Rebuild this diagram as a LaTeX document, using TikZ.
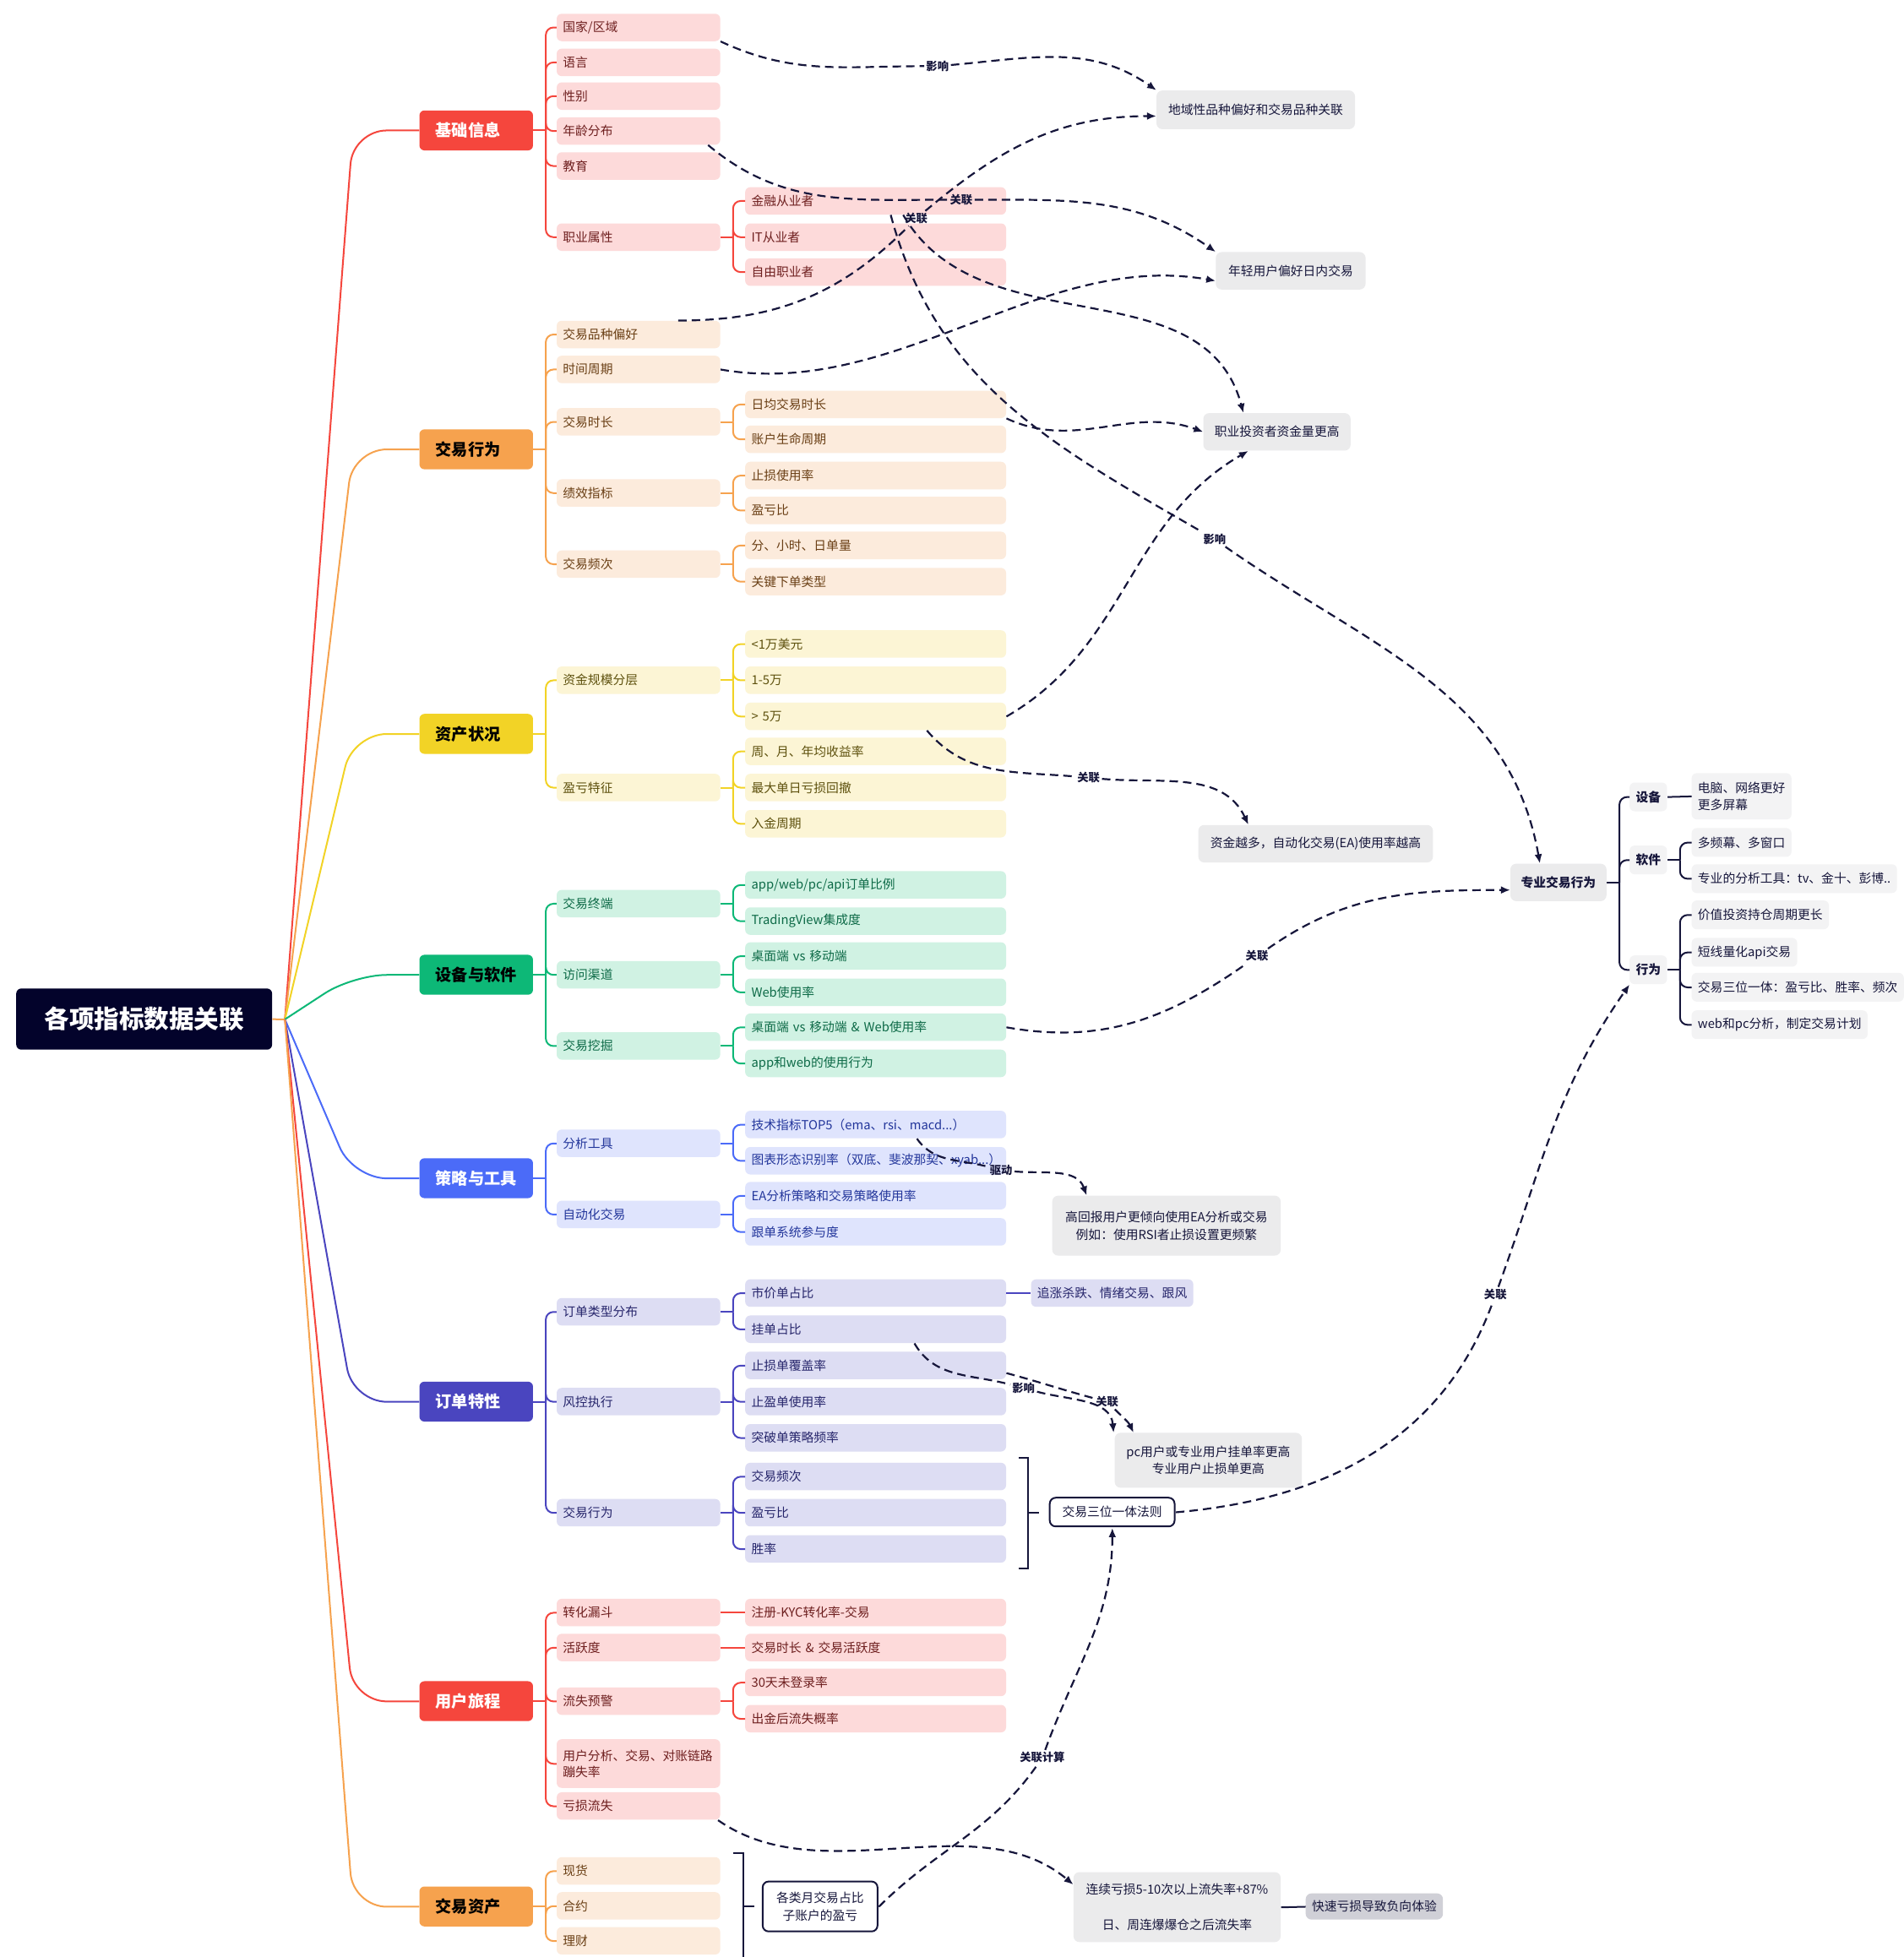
\documentclass[tikz,border=0pt]{standalone}
\usepackage{fontspec}
\setmainfont{Noto Sans CJK SC}
\usetikzlibrary{arrows.meta,calc,positioning}

\definecolor{rootC}{HTML}{03032B}
\definecolor{navy}{HTML}{16163B}
\definecolor{redC}{HTML}{F5463D}
\definecolor{redL}{HTML}{FDDADA}
\definecolor{redT}{HTML}{6E1F1F}
\definecolor{oraC}{HTML}{F6A24E}
\definecolor{oraL}{HTML}{FCEBDC}
\definecolor{oraT}{HTML}{6A3F15}
\definecolor{yelC}{HTML}{F2D326}
\definecolor{yelL}{HTML}{FCF5D5}
\definecolor{yelT}{HTML}{5E510E}
\definecolor{grnC}{HTML}{0DB877}
\definecolor{grnL}{HTML}{D0F2E3}
\definecolor{grnT}{HTML}{0D6A47}
\definecolor{bluC}{HTML}{4B6BF8}
\definecolor{bluL}{HTML}{DFE4FD}
\definecolor{bluT}{HTML}{23369B}
\definecolor{indC}{HTML}{4A45BF}
\definecolor{indL}{HTML}{DDDDF3}
\definecolor{indT}{HTML}{26256B}
\definecolor{noteC}{HTML}{EBEBEC}
\definecolor{noteD}{HTML}{D0D0D7}
\definecolor{tagC}{HTML}{F3F3F4}

\tikzset{
    rootbox/.style={fill=rootC, text=white, rounded corners=6pt,
        minimum width=205pt, minimum height=49pt,
        font=\fontsize{20}{24}\selectfont\bfseries},
    catbox/.style={fill=#1, text=black, rounded corners=6pt,
        text width=65pt, inner xsep=13pt, align=left, minimum height=32pt,
        font=\fontsize{13}{16}\selectfont\bfseries},
    subbox/.style={fill=#1L, text=#1T, rounded corners=6pt,
        text width=121pt, minimum height=22pt, inner xsep=5pt, inner ysep=2pt,
        align=left, font=\fontsize{10}{13}\selectfont},
    leafbox/.style={subbox=#1, text width=199pt},
    notebox/.style={fill=noteC, text=navy, rounded corners=7pt, align=center,
        font=\fontsize{10}{14}\selectfont},
    framebox/.style={notebox, fill=white, draw=navy, line width=2pt},
    tagbox/.style={fill=tagC, text=navy, rounded corners=6pt, inner sep=2pt,
        minimum width=30pt, minimum height=23pt,
        font=\fontsize{10}{13}\selectfont\bfseries},
    tagleaf/.style={fill=tagC, text=navy, rounded corners=6pt, anchor=west,
        inner xsep=5pt, minimum height=23pt, align=left,
        font=\fontsize{10}{14}\selectfont},
    lbl/.style={text=navy, inner sep=1.5pt, font=\fontsize{9}{11}\selectfont\bfseries},
    mainln/.style={draw=#1, line width=2pt, rounded corners=40pt},
    brnch/.style={draw=#1, line width=2pt, rounded corners=9pt},
    brk/.style={draw=navy, line width=2pt},
    rel/.style={draw=navy, line width=2.2pt, dash pattern=on 10pt off 6pt,
        -{Latex[length=11pt,width=9pt]}},
}
\newcommand\branchto[3]{%
    \draw[brnch=#2] (#1.east) -- ++(10,0);
    \foreach \k in {#3} \draw[brnch=#2] ($(#1.east)+(10,0)$) |- (\k.west);
}

\begin{document}
\begin{tikzpicture}[x=1pt, y=-1pt, scale=1.4774, transform shape]
    \path[use as bounding box, fill=white] (0,0) rectangle (1525,1568);

    % root and main topics
    \node[rootbox] (root) at (115.5,816.5) {各项指标数据关联};
    \coordinate (hub) at ($(root.east)+(10,0)$);
    \node[catbox=redC, text=white] (cA) at (381.5,104.5) {基础信息};
    \node[catbox=oraC] (cB) at (381.5,360) {交易行为};
    \node[catbox=yelC] (cC) at (381.5,588) {资产状况};
    \node[catbox=grnC] (cD) at (381.5,781) {设备与软件};
    \node[catbox=bluC, text=white] (cE) at (381.5,944) {策略与工具};
    \node[catbox=indC, text=white] (cF) at (381.5,1123) {订单特性};
    \node[catbox=redC, text=white] (cG) at (381.5,1363) {用户旅程};
    \node[catbox=oraC] (cH) at (381.5,1527.5) {交易资产};

    % 基础信息
    \node[subbox=red] (a1) at (511.5,22) {国家/区域};
    \node[subbox=red] (a2) at (511.5,50) {语言};
    \node[subbox=red] (a3) at (511.5,77) {性别};
    \node[subbox=red] (a4) at (511.5,105) {年龄分布};
    \node[subbox=red] (a5) at (511.5,133) {教育};
    \node[subbox=red] (a6) at (511.5,190) {职业属性};
    \node[leafbox=red] (a61) at (701.5,161) {金融从业者};
    \node[leafbox=red] (a62) at (701.5,190) {IT从业者};
    \node[leafbox=red] (a63) at (701.5,218) {自由职业者};

    % 交易行为
    \node[subbox=ora] (b1) at (511.5,268) {交易品种偏好};
    \node[subbox=ora] (b2) at (511.5,296) {时间周期};
    \node[subbox=ora] (b3) at (511.5,338) {交易时长};
    \node[subbox=ora] (b4) at (511.5,395) {绩效指标};
    \node[subbox=ora] (b5) at (511.5,452) {交易频次};
    \node[leafbox=ora] (b31) at (701.5,324) {日均交易时长};
    \node[leafbox=ora] (b32) at (701.5,352) {账户生命周期};
    \node[leafbox=ora] (b41) at (701.5,381) {止损使用率};
    \node[leafbox=ora] (b42) at (701.5,409) {盈亏比};
    \node[leafbox=ora] (b51) at (701.5,437) {分、小时、日单量};
    \node[leafbox=ora] (b52) at (701.5,466) {关键下单类型};

    % 资产状况
    \node[subbox=yel] (c1) at (511.5,545) {资金规模分层};
    \node[subbox=yel] (c2) at (511.5,631) {盈亏特征};
    \node[leafbox=yel] (c11) at (701.5,516) {<1万美元};
    \node[leafbox=yel] (c12) at (701.5,545) {1-5万};
    \node[leafbox=yel] (c13) at (701.5,574) {> 5万};
    \node[leafbox=yel] (c21) at (701.5,602) {周、月、年均收益率};
    \node[leafbox=yel] (c22) at (701.5,631) {最大单日亏损回撤};
    \node[leafbox=yel] (c23) at (701.5,660) {入金周期};

    % 设备与软件
    \node[subbox=grn] (d1) at (511.5,724) {交易终端};
    \node[subbox=grn] (d2) at (511.5,781) {访问渠道};
    \node[subbox=grn] (d3) at (511.5,838) {交易挖掘};
    \node[leafbox=grn] (d11) at (701.5,709) {app/web/pc/api订单比例};
    \node[leafbox=grn] (d12) at (701.5,738) {TradingView集成度};
    \node[leafbox=grn] (d21) at (701.5,766) {桌面端 vs 移动端};
    \node[leafbox=grn] (d22) at (701.5,795) {Web使用率};
    \node[leafbox=grn] (d31) at (701.5,823) {桌面端 vs 移动端 \& Web使用率};
    \node[leafbox=grn] (d32) at (701.5,852) {app和web的使用行为};

    % 策略与工具
    \node[subbox=blu] (e1) at (511.5,916) {分析工具};
    \node[subbox=blu] (e2) at (511.5,973) {自动化交易};
    \node[leafbox=blu] (e11) at (701.5,901) {技术指标TOP5（ema、rsi、macd...）};
    \node[leafbox=blu] (e12) at (701.5,930) {图表形态识别率（双底、斐波那契、xyab...）};
    \node[leafbox=blu] (e21) at (701.5,958) {EA分析策略和交易策略使用率};
    \node[leafbox=blu] (e22) at (701.5,987) {跟单系统参与度};

    % 订单特性
    \node[subbox=ind] (f1) at (511.5,1051) {订单类型分布};
    \node[subbox=ind] (f2) at (511.5,1123) {风控执行};
    \node[subbox=ind] (f3) at (511.5,1212) {交易行为};
    \node[leafbox=ind] (f11) at (701.5,1036) {市价单占比};
    \node[leafbox=ind] (f12) at (701.5,1065) {挂单占比};
    \node[subbox=ind, text width=120pt] (f111) at (891,1036) {追涨杀跌、情绪交易、跟风};
    \node[leafbox=ind] (f21) at (701.5,1094) {止损单覆盖率};
    \node[leafbox=ind] (f22) at (701.5,1123) {止盈单使用率};
    \node[leafbox=ind] (f23) at (701.5,1152) {突破单策略频率};
    \node[leafbox=ind] (f31) at (701.5,1183) {交易频次};
    \node[leafbox=ind] (f32) at (701.5,1212) {盈亏比};
    \node[leafbox=ind] (f33) at (701.5,1241) {胜率};

    % 用户旅程
    \node[subbox=red] (g1) at (511.5,1292) {转化漏斗};
    \node[subbox=red] (g2) at (511.5,1320) {活跃度};
    \node[subbox=red] (g3) at (511.5,1363) {流失预警};
    \node[subbox=red, minimum height=39pt] (g4) at (511.5,1413) {用户分析、交易、对账链路\\蹦失率};
    \node[subbox=red] (g5) at (511.5,1447) {亏损流失};
    \node[leafbox=red] (g11) at (701.5,1292) {注册-KYC转化率-交易};
    \node[leafbox=red] (g21) at (701.5,1320) {交易时长 \& 交易活跃度};
    \node[leafbox=red] (g31) at (701.5,1348) {30天未登录率};
    \node[leafbox=red] (g32) at (701.5,1377) {出金后流失概率};

    % 交易资产
    \node[subbox=ora] (h1) at (511.5,1499) {现货};
    \node[subbox=ora] (h2) at (511.5,1527) {合约};
    \node[subbox=ora] (h3) at (511.5,1555) {理财};

    % conclusions
    \node[notebox, minimum width=159pt, minimum height=31pt] (nGeo) at (1006,88) {地域性品种偏好和交易品种关联};
    \node[notebox, minimum width=120pt, minimum height=30pt] (nYoung) at (1034,217) {年轻用户偏好日内交易};
    \node[notebox, minimum width=118pt, minimum height=30pt] (nPro) at (1023,346) {职业投资者资金量更高};
    \node[notebox, minimum width=188pt, minimum height=30pt] (nEA) at (1054,676) {资金越多，自动化交易(EA)使用率越高};
    \node[notebox, minimum width=183pt, minimum height=48pt] (nHigh) at (934.5,982) {高回报用户更倾向使用EA分析或交易\\例如：使用RSI者止损设置更频繁};
    \node[notebox, minimum width=150pt, minimum height=44pt] (nPc) at (968,1170) {pc用户或专业用户挂单率更高\\专业用户止损单更高};
    \node[framebox, minimum width=100pt, minimum height=23pt] (sanwei) at (891,1211.5) {交易三位一体法则};
    \node[framebox, minimum width=92pt, minimum height=40pt] (yueJy) at (657,1527.5) {各类月交易占比\\子账户的盈亏};
    \node[notebox, minimum width=166pt, minimum height=56pt] (lianxu) at (943,1528) {连续亏损5-10次以上流失率+87\%\\[14pt]日、周连爆爆仓之后流失率};
    \node[notebox, fill=noteD, minimum width=110pt, minimum height=21pt] (kuaisu) at (1101,1527.5) {快速亏损导致负向体验};

    % 专业交易行为
    \node[notebox, minimum width=77pt, minimum height=30pt, font=\fontsize{10}{13}\selectfont\bfseries] (zy) at (1248.5,707) {专业交易行为};
    \node[tagbox] (zSb) at (1320.5,638.5) {设备};
    \node[tagbox] (zRj) at (1320.5,689) {软件};
    \node[tagbox] (zXw) at (1320.5,777) {行为};
    \node[tagleaf, minimum height=37pt] (zl1) at (1355,638) {电脑、网络更好\\更多屏幕};
    \node[tagleaf] (zl2) at (1355,675) {多频幕、多窗口};
    \node[tagleaf] (zl3) at (1355,704) {专业的分析工具：tv、金十、彭博..};
    \node[tagleaf] (zl4) at (1355,733) {价值投资持仓周期更长};
    \node[tagleaf] (zl5) at (1355,763) {短线量化api交易};
    \node[tagleaf] (zl6) at (1355,791) {交易三位一体：盈亏比、胜率、频次};
    \node[tagleaf] (zl7) at (1355,821) {web和pc分析，制定交易计划};

    % labels on the relations
    \node[lbl] (l1) at (751,53) {影响};
    \node[lbl] (l2) at (734,175) {关联};
    \node[lbl] (l3) at (770,160) {关联};
    \node[lbl] (l5) at (973,432) {影响};
    \node[lbl] (l6) at (872,623) {关联};
    \node[lbl] (l7) at (1007,766) {关联};
    \node[lbl] (l8) at (802,937.5) {驱动};
    \node[lbl] (l9) at (820,1112) {影响};
    \node[lbl] (l10) at (887,1123) {关联};
    \node[lbl] (l11) at (1198,1037) {关联};
    \node[lbl] (l12) at (835,1408) {关联计算};

    % tree lines
    \draw[mainln=oraC] (root.east) -- (hub);
    \foreach \c/\col in {cA/redC, cB/oraC, cC/yelC, cD/grnC, cE/bluC, cF/indC, cG/redC, cH/oraC}
        \draw[mainln=\col] (hub) -- ($(\c.west)+(-53,0)$) -- (\c.west);
    \branchto{cA}{redC}{a1,a2,a3,a4,a5,a6}
    \branchto{a6}{redC}{a61,a62,a63}
    \branchto{cB}{oraC}{b1,b2,b3,b4,b5}
    \branchto{b3}{oraC}{b31,b32}
    \branchto{b4}{oraC}{b41,b42}
    \branchto{b5}{oraC}{b51,b52}
    \branchto{cC}{yelC}{c1,c2}
    \branchto{c1}{yelC}{c11,c12,c13}
    \branchto{c2}{yelC}{c21,c22,c23}
    \branchto{cD}{grnC}{d1,d2,d3}
    \branchto{d1}{grnC}{d11,d12}
    \branchto{d2}{grnC}{d21,d22}
    \branchto{d3}{grnC}{d31,d32}
    \branchto{cE}{bluC}{e1,e2}
    \branchto{e1}{bluC}{e11,e12}
    \branchto{e2}{bluC}{e21,e22}
    \branchto{cF}{indC}{f1,f2,f3}
    \branchto{f1}{indC}{f11,f12}
    \branchto{f2}{indC}{f21,f22,f23}
    \branchto{f3}{indC}{f31,f32,f33}
    \draw[brnch=indC] (f11.east) -- (f111.west);
    \branchto{cG}{redC}{g1,g2,g3,g4,g5}
    \draw[brnch=redC] (g1.east) -- (g11.west);
    \draw[brnch=redC] (g2.east) -- (g21.west);
    \branchto{g3}{redC}{g31,g32}
    \branchto{cH}{oraC}{h1,h2,h3}
    \branchto{zy}{navy}{zSb,zRj,zXw}
    \draw[brnch=navy] (zSb.east) -- (zl1.west);
    \branchto{zRj}{navy}{zl2,zl3}
    \branchto{zXw}{navy}{zl4,zl5,zl6,zl7}
    \draw[brnch=navy] (lianxu.east) -- (kuaisu.west);

    % brackets
    \draw[brk] ($(f31.north east)+(10,-4)$) -| ($(f33.south east)+(17,4)$) -- ++(-7,0);
    \draw[brk] ($(f32.east)+(17,0)$) -- ++(9,0);
    \draw[brk] ($(h1.north east)+(10,-3)$) -| ($(h3.south east)+(18,20)$);
    \draw[brk] ($(h2.east)+(18,0)$) -- ++(9,0);

    % relations
    \draw[rel] (a1.south east) to[out=-25,in=180] (l1) to[out=5,in=145] (nGeo.north west);
    \draw[rel] ($(b1.north east)+(-34,0)$) to[out=0,in=225] (l2) to[out=40,in=180] ($(nGeo.west)+(0,5)$);
    \draw[rel] ($(a4.south east)+(-10,0)$) to[out=-40,in=180] (l3) to[out=0,in=145] (nYoung.north west);
    \draw[rel] (b2.east) to[out=-10,in=170,looseness=0.9] ($(nYoung.west)+(0,8)$);
    \draw[rel] ($(a61.south)+(22,0)$) to[out=-60,in=105] ($(nPro.north)+(-27,0)$);
    \draw[rel] ($(a61.south)+(12,0)$) to[out=-75,in=150] (l5) to[out=-35,in=100] ($(zy.north)+(-15,0)$);
    \draw[rel] (b31.south east) to[out=-25,in=160] (nPro.west);
    \draw[rel] (c13.east) to[out=30,in=-150] ($(nPro.south)+(-23,0)$);
    \draw[rel] ($(c13.south)+(41,0)$) to[out=-50,in=175] (l6) to[out=-5,in=115] ($(nEA.north)+(-54,0)$);
    \draw[rel] (d31.east) to[out=-10,in=215] (l7) to[out=35,in=180] ($(zy.west)+(0,6)$);
    \draw[rel] ($(e11.south)+(33,0)$) to[out=-55,in=165] (l8) to[out=-5,in=110] ($(nHigh.north)+(-64,0)$);
    \draw[rel] ($(f12.south)+(31,0)$) to[out=-60,in=165] (l9) to[out=-15,in=95] ($(nPc.north)+(-76,0)$);
    \draw[rel] ($(f21.east)+(0,6)$) to[out=-15,in=165] (l10) to[out=-45,in=115] ($(nPc.north)+(-60,0)$);
    \draw[rel] (sanwei.east) to[out=5,in=-110] (l11) to[out=70,in=-125] (zXw.south west);
    \draw[rel] (yueJy.east) to[out=45,in=-125] (l12) to[out=70,in=-90] (sanwei.south);
    \draw[rel] ($(g5.south east)+(-2,0)$) to[out=-35,in=140,looseness=0.9] ($(lianxu.north west)+(0,10)$);
\end{tikzpicture}
\end{document}
